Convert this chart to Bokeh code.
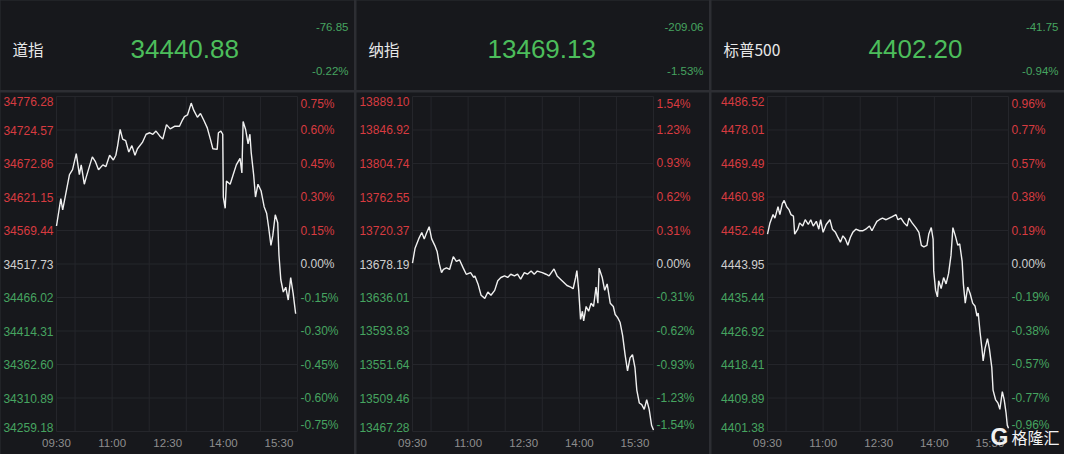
from bokeh.plotting import figure
from bokeh.layouts import row, column
from bokeh.models import Range1d, Grid
from bokeh.embed import file_html
from bokeh.resources import INLINE
from bokeh.core.properties import value

# ---------------- data ----------------
names = ["道指", "纳指", "标普500"]
last_values = [34440.88, 13469.13, 4402.20]
changes = ["-76.85", "-209.06", "-41.75"]
change_pcts = ["-0.22%", "-1.53%", "-0.94%"]

dow_ticks = [34259.18, 34310.89, 34362.60, 34414.31, 34466.02, 34517.73,
             34569.44, 34621.15, 34672.86, 34724.57, 34776.28]
dow_pct = ["-0.75%", "-0.60%", "-0.45%", "-0.30%", "-0.15%", "0.00%",
           "0.15%", "0.30%", "0.45%", "0.60%", "0.75%"]
nas_ticks = [13467.28, 13509.46, 13551.64, 13593.83, 13636.01, 13678.19,
             13720.37, 13762.55, 13804.74, 13846.92, 13889.10]
nas_pct = ["-1.54%", "-1.23%", "-0.93%", "-0.62%", "-0.31%", "0.00%",
           "0.31%", "0.62%", "0.93%", "1.23%", "1.54%"]
spx_ticks = [4401.38, 4409.89, 4418.41, 4426.92, 4435.44, 4443.95,
             4452.46, 4460.98, 4469.49, 4478.01, 4486.52]
spx_pct = ["-0.96%", "-0.77%", "-0.57%", "-0.38%", "-0.19%", "0.00%",
           "0.19%", "0.38%", "0.57%", "0.77%", "0.96%"]

# minutes after 09:30 (session 09:30 - 16:00 = 390 minutes)
session_end = 390
time_ticks = [0, 90, 180, 270, 360]
time_labels = ["09:30", "11:00", "12:30", "14:00", "15:30"]
time_grid = [0, 30, 90, 150, 210, 270, 330, 390]

dow_t = [0, 7, 10, 15, 21, 26, 32, 37, 40, 45, 48, 54, 58, 63, 68, 75, 80, 86, 92, 96,
         99, 103, 107, 112, 117, 122, 127, 131, 139, 145, 151, 156, 161, 167, 172, 178,
         184, 191, 199, 204, 207, 212, 218, 222, 228, 233, 238, 244, 249, 253, 260, 262,
         266, 269, 270, 273, 275, 281, 286, 291, 297, 300, 302, 306, 310, 313, 315, 319,
         322, 326, 331, 336, 340, 343, 347, 350, 354, 358, 360, 363, 367, 371, 375, 379,
         383, 387]
dow_v = [34576.4, 34618.6, 34601.1, 34626.0, 34655.8, 34663.3, 34688.2, 34655.8,
         34670.7, 34640.9, 34651.4, 34670.7, 34683.1, 34675.7, 34663.3, 34670.7,
         34668.2, 34685.6, 34678.2, 34685.6, 34700.5, 34725.4, 34710.5, 34708.0,
         34690.5, 34700.5, 34685.6, 34695.6, 34705.4, 34718.0, 34720.3, 34718.0,
         34722.9, 34715.4, 34710.5, 34732.9, 34726.3, 34730.3, 34730.3, 34740.3,
         34745.2, 34747.8, 34766.1, 34755.2, 34744.2, 34750.1, 34740.3, 34727.8,
         34710.5, 34695.6, 34694.6, 34720.3, 34722.9, 34718.0, 34621.1, 34603.7,
         34645.8, 34640.9, 34655.8, 34670.7, 34680.7, 34658.4, 34737.8, 34725.4,
         34703.1, 34718.0, 34690.5, 34655.8, 34621.1, 34640.9, 34630.9, 34606.2,
         34596.2, 34576.4, 34546.6, 34561.5, 34593.7, 34581.3, 34531.7, 34493.4,
         34474.5, 34481.9, 34462.1, 34496.8, 34472.1, 34440.88]

nas_t = [0, 4, 10, 15, 19, 23, 27, 31, 36, 40, 43, 47, 50, 55, 60, 66, 71, 76, 82, 87,
         94, 99, 101, 106, 111, 117, 122, 127, 133, 138, 143, 149, 154, 159, 165, 170,
         175, 181, 186, 192, 197, 202, 210, 216, 221, 229, 234, 242, 250, 256, 260, 264,
         266, 269, 272, 275, 277, 281, 285, 289, 293, 297, 300, 302, 307, 311, 315, 320,
         325, 328, 332, 336, 340, 344, 348, 352, 356, 360, 363, 367, 371, 375, 379, 383,
         387, 390]
nas_v = [13679.4, 13697.6, 13709.8, 13717.9, 13709.8, 13717.9, 13725.2, 13709.8,
         13701.7, 13693.6, 13679.4, 13667.3, 13671.3, 13673.3, 13671.3, 13687.5,
         13681.4, 13683.5, 13673.3, 13665.2, 13667.3, 13661.2, 13663.2, 13653.1,
         13638.9, 13634.9, 13643.0, 13638.9, 13645.0, 13657.2, 13661.2, 13663.2,
         13661.2, 13665.3, 13663.2, 13665.3, 13659.2, 13667.3, 13665.3, 13669.3,
         13665.3, 13669.3, 13667.3, 13665.3, 13663.2, 13672.0, 13663.2, 13657.2,
         13651.1, 13649.1, 13647.0, 13661.2, 13670.0, 13645.0, 13608.5, 13618.7,
         13606.5, 13624.7, 13618.7, 13628.8, 13624.7, 13649.1, 13628.8, 13673.0,
         13661.2, 13645.0, 13653.1, 13628.8, 13624.7, 13614.6, 13610.6, 13604.5,
         13588.3, 13564.0, 13543.7, 13559.9, 13564.0, 13547.8, 13519.4, 13503.2,
         13501.2, 13495.1, 13507.2, 13495.1, 13474.8, 13469.13]

spx_t = [0, 4, 9, 12, 17, 20, 24, 27, 31, 35, 38, 42, 44, 49, 52, 57, 61, 66, 70, 74,
         79, 83, 86, 90, 95, 101, 105, 110, 114, 118, 122, 126, 130, 134, 138, 143, 149,
         154, 159, 165, 169, 173, 177, 181, 186, 192, 197, 202, 208, 211, 216, 221, 226,
         229, 234, 240, 245, 249, 253, 258, 261, 265, 268, 269, 272, 275, 277, 281, 285,
         289, 293, 297, 300, 304, 308, 311, 315, 317, 320, 324, 328, 332, 336, 339, 341,
         344, 347, 349, 352, 356, 359, 363, 365, 369, 373, 376, 380, 383, 386, 388, 390]
spx_v = [4451.55, 4454.4, 4456.5, 4455.6, 4458.5, 4456.5, 4459.3, 4460.1, 4458.5,
         4457.7, 4456.5, 4456.1, 4451.55, 4452.8, 4454.4, 4453.6, 4455.2, 4454.0,
         4455.2, 4453.6, 4454.8, 4452.8, 4455.2, 4452.0, 4454.0, 4455.2, 4452.8,
         4452.0, 4450.7, 4449.5, 4451.1, 4450.3, 4448.7, 4450.7, 4452.0, 4452.8,
         4452.4, 4452.4, 4452.8, 4453.6, 4452.4, 4453.6, 4454.8, 4455.2, 4455.6,
         4455.2, 4455.6, 4456.0, 4456.5, 4455.2, 4455.6, 4454.4, 4453.6, 4455.6,
         4454.4, 4453.2, 4452.0, 4448.7, 4448.3, 4448.7, 4451.55, 4453.2, 4450.3,
         4442.2, 4437.3, 4435.6, 4439.7, 4437.7, 4440.5, 4438.9, 4441.5, 4446.2,
         4453.2, 4451.1, 4448.7, 4449.1, 4444.6, 4438.9, 4434.0, 4438.1, 4436.4,
         4434.0, 4433.2, 4430.7, 4431.5, 4426.6, 4422.5, 4419.3, 4422.5, 4425.0,
         4422.5, 4417.6, 4411.9, 4409.5, 4408.6, 4407.0, 4411.5, 4409.5, 4406.2,
         4403.0, 4402.20]

# ---------------- style ----------------
BG = "#17181c"
GRID = "#25262b"
DIV = "#2d2e33"
RED = "#d83b40"
GREEN = "#46a460"
BIG_GREEN = "#4cbd5b"
ZERO = "#cfcfcf"
XLAB = "#8e8e8e"
LINE = "#f0f0f0"
NUM_FONT = "Liberation Sans"
CJK_FONT = "Noto Sans CJK SC"

WIDTHS = [354, 353, 353]
HEADER_H = 90
CHART_H = 362
PLOT_LEFT = 56      # pixels left of the trading-session area
PLOT_W = 241        # pixels of the trading-session area
PLOT_TOP = 4        # pixels above the top gridline
PLOT_BOTTOM = 23    # pixels below the bottom gridline (time labels)
NUM_LEFT = [130, 131, 157]


def make_header(i, w):
    h = figure(width=w, height=HEADER_H, x_range=Range1d(0, w), y_range=Range1d(0, HEADER_H),
               output_backend="svg", toolbar_location=None, min_border=0,
               x_axis_location=None, y_axis_location=None,
               background_fill_color=BG, border_fill_color=BG, outline_line_color=None)
    h.grid.visible = False
    h.text(x=[12], y=[42], text=[names[i]], text_font=value(CJK_FONT),
           text_font_size=value("15.5px"), text_color="#e8e8e8",
           text_align="left", text_baseline="middle")
    h.text(x=[NUM_LEFT[i]], y=[42], text=["%.2f" % last_values[i]], text_font=value(NUM_FONT),
           text_font_size=value("26px"), text_color=BIG_GREEN,
           text_align="left", text_baseline="middle")
    h.text(x=[w - 6, w - 6], y=[64, 20], text=[changes[i], change_pcts[i]],
           text_font=value(NUM_FONT), text_font_size=value("11.5px"), text_color=GREEN,
           text_align="right", text_baseline="middle")
    return h


def make_chart(w, t, v, ticks, pcts, watermark=False):
    mpp = session_end / PLOT_W
    right_px = w - PLOT_LEFT - PLOT_W
    lo, hi = ticks[0], ticks[-1]
    vpp = (hi - lo) / (CHART_H - PLOT_TOP - PLOT_BOTTOM)
    p = figure(width=w, height=CHART_H,
               x_range=Range1d(-PLOT_LEFT * mpp, session_end + right_px * mpp),
               y_range=Range1d(lo - PLOT_BOTTOM * vpp, hi + PLOT_TOP * vpp),
               output_backend="svg", toolbar_location=None,
               y_axis_location=None, x_axis_location=None,
               min_border=0,
               background_fill_color=BG, border_fill_color=BG, outline_line_color=None)
    p.center = [r for r in p.center if not isinstance(r, Grid)]

    # grid confined to the trading session area
    n = len(time_grid)
    p.segment(x0=time_grid, y0=[lo] * n, x1=time_grid, y1=[hi] * n,
              line_color=GRID, line_width=1)
    m = len(ticks)
    p.segment(x0=[0] * m, y0=ticks, x1=[session_end] * m, y1=ticks,
              line_color=GRID, line_width=1)

    # time labels
    p.text(x=time_ticks, y=[lo - 11 * vpp] * len(time_ticks), text=time_labels,
           text_align="center", text_baseline="middle", text_color=XLAB,
           text_font=value(NUM_FONT), text_font_size=value("11.5px"))

    # price / percent labels
    colors = [GREEN if k < 5 else (ZERO if k == 5 else RED) for k in range(m)]
    left_text = ["%.2f" % tk for tk in ticks]
    groups = [([0], "bottom"), (list(range(1, m - 1)), "middle"), ([m - 1], "top")]
    for idx, base in groups:
        ys = [ticks[k] for k in idx]
        cs = [colors[k] for k in idx]
        p.text(x=[0] * len(idx), y=ys, text=[left_text[k] for k in idx], x_offset=-3,
               text_align="right", text_baseline=base, text_color=cs,
               text_font=value(NUM_FONT), text_font_size=value("12px"))
        p.text(x=[session_end] * len(idx), y=ys, text=[pcts[k] for k in idx], x_offset=3,
               text_align="left", text_baseline=base, text_color=cs,
               text_font=value(NUM_FONT), text_font_size=value("12px"))

    p.line(t, v, line_color=LINE, line_width=1.4)

    if watermark:
        wy = lo - 5 * vpp
        p.text(x=[session_end], y=[wy], text=["G"], x_offset=-18,
               text_font=value(NUM_FONT), text_font_style="bold",
               text_font_size=value("23px"), text_color="#f2f2f2",
               text_align="left", text_baseline="middle")
        p.text(x=[session_end], y=[wy], text=["格隆汇"], x_offset=3,
               text_font=value(CJK_FONT), text_font_size=value("16px"),
               text_color="#f2f2f2", text_align="left", text_baseline="middle")
    return p


series = [(dow_t, dow_v, dow_ticks, dow_pct),
          (nas_t, nas_v, nas_ticks, nas_pct),
          (spx_t, spx_v, spx_ticks, spx_pct)]

panels = []
for i, (t, v, ticks, pcts) in enumerate(series):
    hdr = make_header(i, WIDTHS[i])
    ch = make_chart(WIDTHS[i], t, v, ticks, pcts, watermark=(i == 2))
    panels.append(column(hdr, ch, spacing=2, styles={"background-color": DIV}))

layout = row(*panels, spacing=2, styles={"background-color": DIV})

open("out.html", "w").write(file_html(layout, INLINE))
